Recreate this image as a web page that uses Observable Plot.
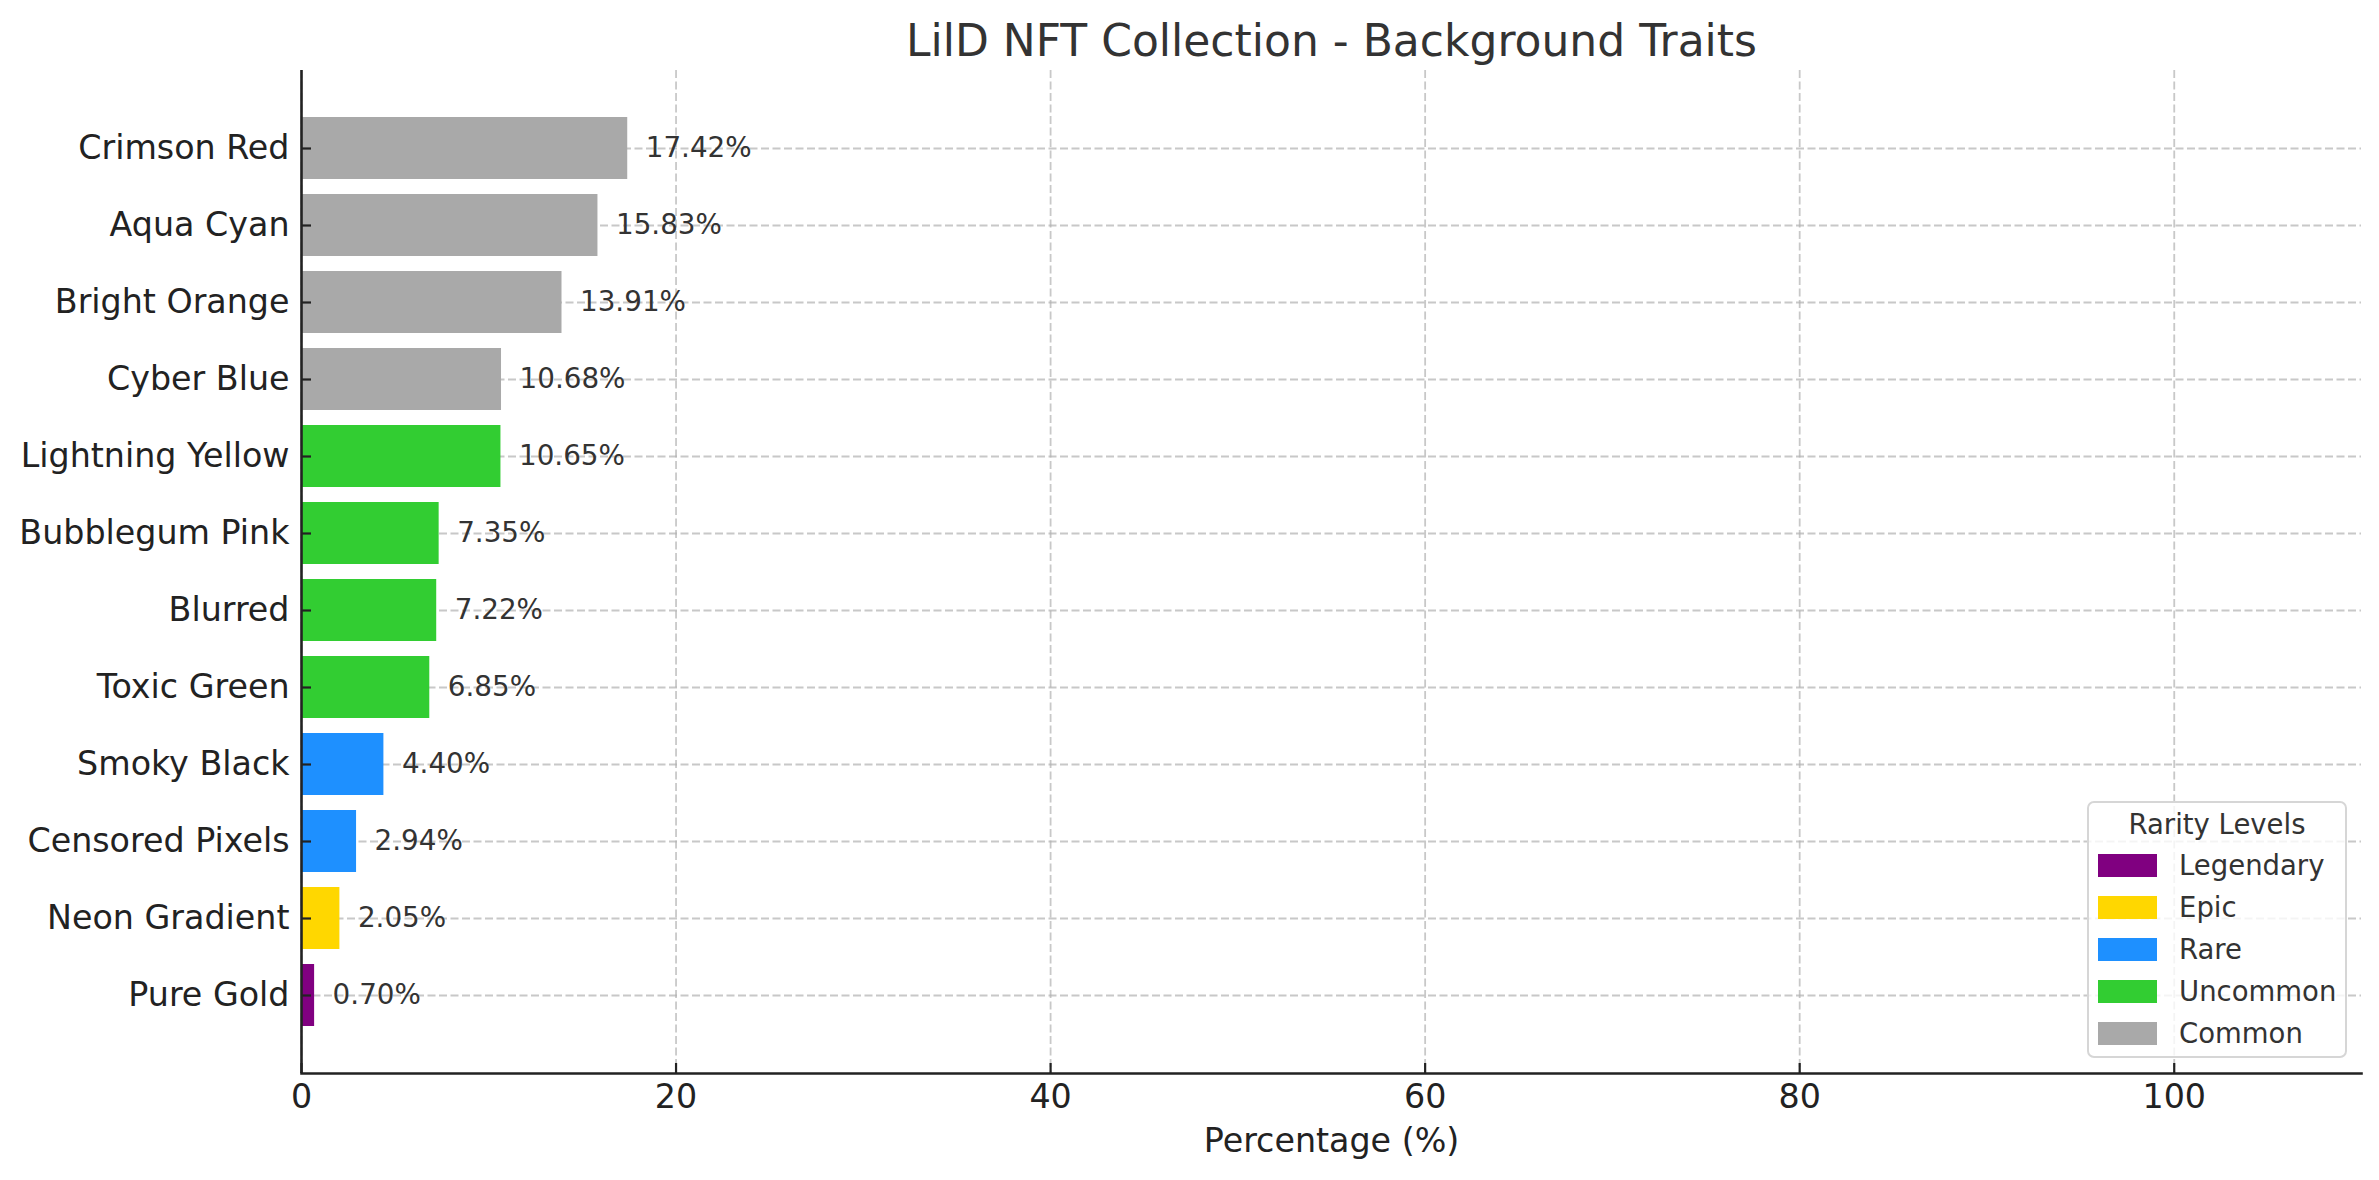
<!DOCTYPE html>
<html><head><meta charset="utf-8">
<script src="https://cdn.jsdelivr.net/npm/d3@7"></script>
<script src="https://cdn.jsdelivr.net/npm/@observablehq/plot@0.6"></script>
<style>
html,body{margin:0;padding:0;background:#fff;}
#wrap{position:relative;width:2379px;height:1180px;font-family:"DejaVu Sans";}
#legend{position:absolute;left:2087px;top:801px;width:256px;height:253px;border:2.2px solid #d6d6d6;border-radius:7px;background:rgba(255,255,255,0.8);color:#333;font-size:27.5px;}
#legend .title{height:41px;line-height:42px;text-align:center;}
#legend .item{height:42px;display:flex;align-items:center;}
#legend .sw{margin-left:9px;width:59px;height:23px;}
#legend .lab{margin-left:22px;}
</style></head>
<body><div id="wrap"></div>
<script>
const traits = ["Crimson Red","Aqua Cyan","Bright Orange","Cyber Blue","Lightning Yellow","Bubblegum Pink","Blurred","Toxic Green","Smoky Black","Censored Pixels","Neon Gradient","Pure Gold"];
const percentages = [17.42,15.83,13.91,10.68,10.65,7.35,7.22,6.85,4.40,2.94,2.05,0.70];
const rarity = ["Common","Common","Common","Common","Uncommon","Uncommon","Uncommon","Uncommon","Rare","Rare","Epic","Legendary"];
const rarityLevels = ["Legendary","Epic","Rare","Uncommon","Common"];
const rarityColors = ["#800080","#FFD700","#1E90FF","#32CD32","#A9A9A9"];
const xTicks = [0,20,40,60,80,100];
const title = "LilD NFT Collection - Background Traits";
const xLabel = "Percentage (%)";
const legendTitle = "Rarity Levels";

const data = traits.map((t,i)=>({trait:t, pct:percentages[i], rarity:rarity[i]}));

const gridStyle = {stroke:"#b0b0b0", strokeOpacity:0.7, strokeWidth:1.8, strokeDasharray:"8,3.5"};

const chart = Plot.plot({
  width: 2379, height: 1180,
  marginLeft: 301, marginRight: 18, marginTop: 70, marginBottom: 107,
  style: {fontFamily:"DejaVu Sans", fontSize:"33.3px", background:"white", color:"#222"},
  x: {domain:[0,110]},
  y: {domain: traits, paddingInner:0.2, paddingOuter:0.59},
  color: {domain: rarityLevels, range: rarityColors},
  marks: [
    Plot.gridX(xTicks, gridStyle),
    Plot.gridY(traits, gridStyle),
    Plot.barX(data, {x:"pct", y:"trait", fill:"rarity"}),
    Plot.axisX(xTicks, {tickSize:-10, tickPadding:21, label:null, stroke:"#222", strokeWidth:2.2, fill:"#222", fontSize:33.3}),
    Plot.axisY({tickSize:-10, tickPadding:22, label:null, stroke:"#222", strokeWidth:2.2, fill:"#222", fontSize:33.3}),
    Plot.ruleX([0], {stroke:"#222", strokeWidth:2.6}),
    Plot.frame({anchor:"bottom", stroke:"#222", strokeWidth:2.6}),
    Plot.text(data, {x:"pct", y:"trait", text:d=>d.pct.toFixed(2)+"%", dx:18, textAnchor:"start", fill:"#333", fontSize:27.8}),
    Plot.text([title], {frameAnchor:"top", lineAnchor:"middle", dy:-29, fill:"#333", fontSize:44}),
    Plot.text([xLabel], {frameAnchor:"bottom", lineAnchor:"middle", dy:68, fill:"#222", fontSize:33.3})
  ]
});
const wrap = document.getElementById("wrap");
wrap.appendChild(chart);
const lg = document.createElement("div");
lg.id = "legend";
let html = `<div class="title">${legendTitle}</div>`;
rarityLevels.forEach((r,i)=>{ html += `<div class="item"><div class="sw" style="background:${rarityColors[i]}"></div><div class="lab">${r}</div></div>`; });
lg.innerHTML = html;
wrap.appendChild(lg);
</script></body></html>
